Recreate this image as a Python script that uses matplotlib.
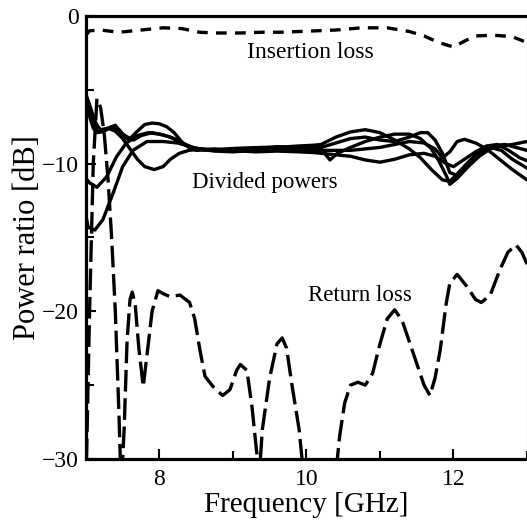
import matplotlib
matplotlib.use("Agg")
import matplotlib.pyplot as plt

plt.rcParams['font.family'] = ['Liberation Serif', 'DejaVu Serif']

# ---- data ----
ins_x = [7.0, 7.05, 7.2, 7.45, 7.75, 8.05, 8.3, 8.55, 8.75, 9.1, 9.4, 9.65, 9.9, 10.4,
         10.75, 11.1, 11.4, 11.6, 11.8, 12.0, 12.15, 12.3, 12.55, 12.8, 13.0]
ins_y = [-1.3, -1.0, -0.95, -1.1, -0.95, -0.8, -0.85, -1.1, -1.15, -1.15, -1.1, -1.1, -1.05, -0.95,
         -0.8, -0.8, -1.05, -1.35, -1.8, -2.1, -1.7, -1.35, -1.3, -1.4, -1.8]

ret_x = [7.0, 7.05, 7.1, 7.15, 7.2, 7.25, 7.3, 7.35, 7.4, 7.45, 7.48, 7.52, 7.56, 7.6, 7.63,
         7.67, 7.72, 7.78, 7.83, 7.9, 7.98, 8.05, 8.14, 8.28, 8.41, 8.48, 8.55, 8.62, 8.73,
         8.86, 8.96, 9.05, 9.1, 9.19, 9.26, 9.32, 9.36, 9.4, 9.5, 9.6, 9.67, 9.73, 9.8, 9.9,
         9.95, 10.15, 10.42, 10.45, 10.52, 10.6, 10.7, 10.8, 10.9, 11.0, 11.1, 11.2, 11.3,
         11.45, 11.6, 11.68, 11.75, 11.82, 11.9, 11.95, 12.05, 12.18, 12.3, 12.38, 12.5,
         12.63, 12.74, 12.85, 12.93, 13.0]
ret_y = [-32, -20, -10, -5.6, -6.2, -8.0, -11, -15, -20, -27, -32, -28, -22, -19.2, -18.7,
         -19.5, -22.5, -25.1, -23, -20, -18.6, -18.8, -19.0, -18.9, -19.4, -20.5, -22.6, -24.4, -25.1,
         -25.7, -25.3, -24, -23.6, -24, -26.5, -29.4, -31, -28, -24.5, -22.2, -21.8, -22.5, -24.9, -28,
         -30.5, -35, -30, -28.5, -26.2, -25, -24.8, -25, -24.2, -22.2, -20.5, -19.9, -20.6,
         -22.8, -25, -25.7, -24.5, -22.6, -19.5, -18.1, -17.5, -18.3, -19.2, -19.4, -18.9,
         -17.2, -16.0, -15.5, -16.0, -16.8]

divA_x = [7.0, 7.05, 7.1, 7.15, 7.2, 7.3, 7.4, 7.5, 7.6, 7.7, 7.8, 7.93, 8.05, 8.15, 8.27, 8.4,
          8.6, 8.8, 9.0, 9.3, 9.6, 9.9, 10.1, 10.2, 10.32, 10.42, 10.6, 10.8, 11.0, 11.2, 11.4,
          11.55, 11.7, 11.8, 11.9, 11.95, 12.05, 12.2, 12.35, 12.5, 12.65, 12.8, 13.0]
divA_y = [-5.7, -6.3, -7.2, -7.8, -7.85, -7.6, -7.8, -8.3, -9.0, -9.7, -10.2, -10.4, -10.2, -9.7, -9.3, -9.1,
          -9.0, -9.1, -9.05, -8.95, -8.85, -8.9, -8.9, -9.0, -9.75, -9.3, -8.9, -8.5, -8.2, -8.0, -8.0,
          -8.3, -9.0, -9.8, -10.8, -11.4, -11.0, -10.2, -9.5, -9.0, -8.8, -8.7, -8.5]

divB_x = [7.0, 7.05, 7.1, 7.15, 7.2, 7.3, 7.4, 7.5, 7.6, 7.7, 7.8, 7.9, 8.0, 8.1, 8.2, 8.3, 8.4,
          8.5, 8.7, 9.0, 9.3, 9.6, 9.9, 10.1, 10.2, 10.4, 10.6, 10.8, 11.0, 11.2, 11.4, 11.55,
          11.7, 11.85, 11.95, 12.05, 12.2, 12.35, 12.5, 12.65, 12.8, 13.0]
divB_y = [-5.3, -6.0, -6.8, -7.4, -7.7, -7.6, -7.4, -8.0, -8.3, -7.8, -7.35, -7.25, -7.3, -7.5, -7.9, -8.5, -8.9,
          -9.1, -9.05, -9.15, -9.0, -8.9, -8.8, -8.75, -8.7, -8.2, -7.85, -7.7, -7.9, -8.4, -9.0, -9.6,
          -10.4, -11.1, -11.2, -10.7, -9.9, -9.2, -8.9, -9.1, -9.7, -10.3]

divC_x = [7.0, 7.05, 7.1, 7.15, 7.25, 7.35, 7.45, 7.55, 7.65, 7.75, 7.9, 8.05, 8.2, 8.35, 8.5,
          8.7, 8.9, 9.1, 9.4, 9.7, 10.0, 10.2, 10.4, 10.6, 10.8, 11.0, 11.2, 11.4, 11.55, 11.65,
          11.75, 11.85, 11.95, 12.05, 12.15, 12.3, 12.5, 12.7, 12.85, 13.0]
divC_y = [-5.9, -6.8, -7.6, -7.9, -7.8, -7.5, -7.7, -8.3, -8.4, -8.1, -7.9, -8.05, -8.3, -8.7, -9.0,
          -9.1, -9.0, -8.95, -8.9, -8.95, -8.95, -8.9, -8.6, -8.3, -8.2, -8.4, -8.5, -8.2, -7.9, -7.9,
          -8.4, -9.3, -10.6, -10.8, -10.3, -9.4, -8.8, -8.7, -8.9, -9.1]

divD_x = [7.0, 7.05, 7.15, 7.28, 7.42, 7.55, 7.7, 7.85, 8.0, 8.15, 8.3, 8.45, 8.6, 8.75, 9.0,
          9.3, 9.6, 9.9, 10.1, 10.2, 10.4, 10.6, 10.8, 11.0, 11.2, 11.4, 11.6, 11.75, 11.85,
          11.95, 12.05, 12.15, 12.3, 12.45, 12.6, 12.8, 13.0]
divD_y = [-11.0, -11.3, -11.6, -10.9, -9.5, -8.6, -8.1, -7.9, -8.0, -8.2, -8.6, -8.9, -9.05, -9.15, -9.2,
          -9.1, -9.05, -9.1, -9.1, -9.1, -9.1, -9.1, -9.0, -8.9, -8.7, -8.5, -8.6, -9.0, -9.6,
          -9.2, -8.5, -8.35, -8.6, -9.0, -9.6, -10.4, -11.1]

divE_x = [7.0, 7.03, 7.12, 7.23, 7.37, 7.5, 7.64, 7.83, 8.05, 8.25, 8.45, 8.6, 8.75, 9.0, 9.3,
          9.6, 9.9, 10.1, 10.2, 10.4, 10.6, 10.8, 11.0, 11.2, 11.4, 11.6, 11.75, 11.9, 12.0,
          12.15, 12.3, 12.45, 12.6, 12.75, 12.9, 13.0]
divE_y = [-13.5, -14.3, -14.5, -13.8, -12.0, -10.2, -9.1, -8.5, -8.5, -8.6, -8.9, -9.05, -9.0, -9.1, -9.2,
          -9.15, -9.2, -9.25, -9.3, -9.4, -9.5, -9.75, -9.9, -9.7, -9.4, -9.3, -9.5, -10.0, -10.2,
          -9.7, -9.2, -8.8, -8.7, -9.1, -9.6, -9.8]

x_major = [8, 10, 12]
x_minor = [7, 9, 11, 13]
y_major = [0, -10, -20, -30]
y_minor = [-5, -15, -25]

# ---- figure ----
fig = plt.figure(figsize=(5.27, 5.23), dpi=100)
ax = fig.add_axes([0.163, 0.1224, 0.837, 0.847])

lw = 2.4
ax.plot(ins_x, ins_y, color='black', lw=lw, linestyle=(0, (3.2, 2.5)))
ax.plot(ret_x, ret_y, color='black', lw=lw, linestyle=(0, (6.5, 2.0)))
for xs, ys in [(divA_x, divA_y), (divB_x, divB_y), (divC_x, divC_y),
               (divD_x, divD_y), (divE_x, divE_y)]:
    ax.plot(xs, ys, color='black', lw=lw, solid_joinstyle='round')

ax.set_xlim(7, 13)
ax.set_ylim(-30, 0)
ax.set_xticks(x_major)
ax.set_xticks(x_minor, minor=True)
ax.set_yticks(y_major)
ax.set_yticks(y_minor, minor=True)
ax.tick_params(which='both', direction='in', width=1.5, labelsize=17, colors='black')
ax.tick_params(which='major', length=7)
ax.tick_params(which='minor', length=6)
ax.tick_params(axis='x', pad=7)
ax.tick_params(axis='y', pad=5)

for s in ['left', 'bottom', 'top']:
    ax.spines[s].set_linewidth(2.3)
ax.spines['right'].set_linewidth(0.8)
ax.spines['right'].set_color('#999999')

ax.set_xlabel('Frequency [GHz]', fontsize=21, labelpad=2)
ax.set_ylabel('Power ratio [dB]', fontsize=22, labelpad=0)

ax.text(10.05, -2.44, 'Insertion loss', fontsize=17, ha='center', va='center')
ax.text(9.44, -11.3, 'Divided powers', fontsize=16.5, ha='center', va='center')
ax.text(10.73, -18.9, 'Return loss', fontsize=16.5, ha='center', va='center')

fig.savefig('out.png', dpi=100)
